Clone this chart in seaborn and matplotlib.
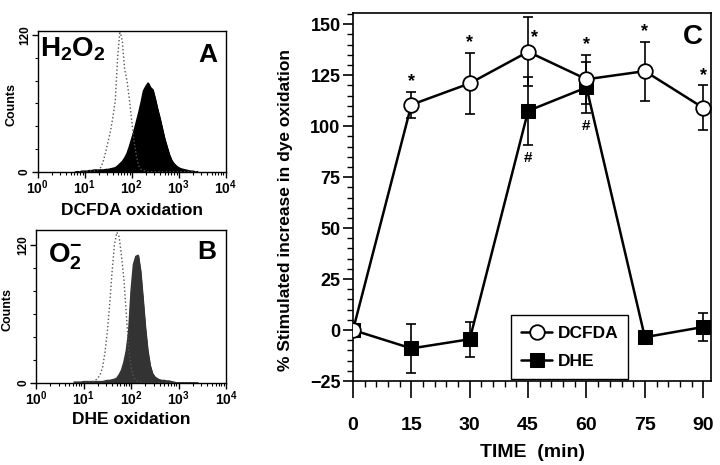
import numpy as np
import seaborn as sns
import matplotlib.pyplot as plt
from matplotlib.ticker import MultipleLocator, FixedLocator

sns.set_theme(style="ticks", rc={
    "axes.edgecolor": "black", "xtick.color": "black", "ytick.color": "black",
    "text.color": "black", "axes.labelcolor": "black",
})
plt.rcParams['font.family'] = ['Liberation Sans', 'DejaVu Sans']
plt.rcParams['font.weight'] = 'bold'
plt.rcParams['axes.labelweight'] = 'bold'
plt.rcParams['mathtext.fontset'] = 'custom'
plt.rcParams['mathtext.rm'] = 'Liberation Sans:bold'
plt.rcParams['mathtext.it'] = 'Liberation Sans:bold'
plt.rcParams['mathtext.bf'] = 'Liberation Sans:bold'
plt.rcParams['mathtext.default'] = 'rm'

# ---- flow cytometry histograms (panels A, B), channels in log10 units ----
log_channel = np.round(np.arange(0.80, 3.41, 0.05), 2)

dcfda_control = [0, 0, 0, 0, 0.5, 0.5, 0.5, 0.5, 0.5, 1,
                 2, 4, 10, 18, 27, 36, 48, 62, 100, 124,
                 115, 90, 80, 64, 45, 27, 14, 5, 2, 1,
                 0.5, 0, 0, 0, 0, 0, 0, 0, 0, 0,
                 0, 0, 0, 0, 0, 0, 0, 0, 0, 0,
                 0, 0, 0]
dcfda_h2o2 = [0, 0, 0, 0.5, 0.5, 0.5, 1, 1, 1.5, 1.5,
              1.5, 1.5, 1.5, 2, 2, 2.5, 3, 3.5, 5, 7,
              9, 12, 16, 22, 29, 36, 44, 52, 61, 71,
              75, 78, 74, 72, 64, 55, 47, 38, 29, 22,
              15, 10, 7, 5, 3.5, 2.5, 2, 1.5, 1, 0.5,
              0.5, 0, 0]
dhe_control = [0.5, 0.5, 0.5, 0.5, 0.5, 0.5, 0.5, 1, 1, 2,
               4, 7, 13, 26, 44, 68, 96, 120, 131, 127,
               110, 90, 60, 30, 14, 5, 2, 1, 0.5, 0,
               0, 0, 0, 0, 0, 0, 0, 0, 0, 0,
               0, 0, 0, 0, 0, 0, 0, 0, 0, 0,
               0, 0, 0]
dhe_superoxide = [0.5, 0.5, 0.5, 0.5, 1, 1, 1, 1, 1, 1,
                  1, 1, 1, 1.5, 2, 2, 2.5, 3, 4, 7,
                  11, 18, 28, 45, 80, 103, 110, 111, 97, 73,
                  48, 28, 15, 8, 5, 3.5, 2.5, 2, 2, 1.5,
                  1.5, 1, 0.5, 0, 0, 0, 0, 0, 0, 0,
                  0, 0, 0]
decade_labels = [r"10$^{0}$", r"10$^{1}$", r"10$^{2}$", r"10$^{3}$", r"10$^{4}$"]

# ---- time course (panel C) ----
time_min = [0, 15, 30, 45, 60, 75, 90]
dcfda_mean = [0, 110.5, 121, 136.5, 123, 127, 109]
dcfda_err = [0, 6.5, 15, 17, 12, 14.5, 11]
dhe_mean = [0, -9, -4.5, 107.5, 119, -3.5, 1.5]
dhe_err = [0, 12, 8.5, 16.5, 12.5, 0, 7]

fig = plt.figure(figsize=(7.2, 4.65), dpi=100)
axA = fig.add_axes([0.0524, 0.6308, 0.261, 0.3032])
axB = fig.add_axes([0.050, 0.177, 0.264, 0.3284])
axC = fig.add_axes([0.4903, 0.1806, 0.4972, 0.7914])


def draw_filled(ax, counts, color):
    sns.lineplot(x=log_channel, y=counts, ax=ax, color=color, linewidth=1.0)
    ax.fill_between(log_channel, counts, color=color, linewidth=0.8, edgecolor=color)


def draw_dotted(ax, counts):
    sns.lineplot(x=log_channel, y=counts, ax=ax, color="#555555", linewidth=1.0,
                 linestyle=":")


def style_hist_axis(ax, ytop, xlabel):
    ax.set_xlim(0, 4)
    ax.set_ylim(0, ytop)
    ax.set_xticks(range(5))
    ax.set_xticklabels(decade_labels)
    minor = [d + np.log10(m) for d in range(4) for m in range(2, 10)]
    ax.xaxis.set_minor_locator(FixedLocator(minor))
    ax.set_yticks([0, 120])
    ax.set_yticklabels(["0", "120"], rotation=90, va="center")
    ax.yaxis.set_minor_locator(FixedLocator([20, 40, 60, 80, 100]))
    ax.tick_params(axis="both", which="major", direction="out", length=4, width=1, pad=1, labelsize=10)
    ax.tick_params(axis="both", which="minor", direction="out", length=2.5, width=0.8)
    ax.tick_params(axis="y", labelsize=8.5, pad=1)
    ax.set_xlabel(xlabel, fontsize=12.5, fontweight="bold")
    ax.set_ylabel("Counts", fontsize=9, fontweight="bold")
    ax.yaxis.set_label_coords(-0.11, 0.48)
    for s in ax.spines.values():
        s.set_linewidth(1.0)


# panel A
draw_filled(axA, dcfda_h2o2, "black")
draw_dotted(axA, dcfda_control)
style_hist_axis(axA, 124, "DCFDA oxidation")
axA.xaxis.set_label_coords(0.5, -0.22)
axA.text(0.012, 0.82, r"H$_2$O$_2$", transform=axA.transAxes, fontsize=20,
         fontweight="bold", ha="left", va="baseline")
axA.text(0.905, 0.83, "A", transform=axA.transAxes, fontsize=19,
         fontweight="bold", ha="center", va="center")

# panel B
draw_filled(axB, dhe_superoxide, "#333333")
draw_dotted(axB, dhe_control)
style_hist_axis(axB, 133, "DHE oxidation")
axB.yaxis.set_label_coords(-0.12, 0.48)
axB.xaxis.set_label_coords(0.5, -0.19)
axB.text(0.065, 0.79, r"O$_2^{\mathbf{-}}$", transform=axB.transAxes, fontsize=20,
         fontweight="bold", ha="left", va="baseline")
axB.text(0.898, 0.858, "B", transform=axB.transAxes, fontsize=19,
         fontweight="bold", ha="center", va="center")

# panel C
axC.errorbar(time_min, dhe_mean, yerr=dhe_err, fmt="none", ecolor="black",
             elinewidth=1.2, capsize=3.5, capthick=1.2, zorder=2.5)
axC.errorbar(time_min, dcfda_mean, yerr=dcfda_err, fmt="none", ecolor="black",
             elinewidth=1.2, capsize=3.5, capthick=1.2, zorder=2.5)
sns.lineplot(x=time_min, y=dhe_mean, ax=axC, color="black", linewidth=1.8,
             marker="s", markersize=10, markerfacecolor="black",
             markeredgecolor="black", label="DHE", zorder=3)
sns.lineplot(x=time_min, y=dcfda_mean, ax=axC, color="black", linewidth=1.8,
             marker="o", markersize=10.5, markerfacecolor="white",
             markeredgecolor="black", markeredgewidth=1.3, label="DCFDA", zorder=4)

# significance marks
for t, m, e in zip(time_min[1:], dcfda_mean[1:], dcfda_err[1:]):
    if t == 45:
        axC.text(t + 1.7, m + 7, "*", ha="center", va="center", fontsize=13, fontweight="bold")
    else:
        axC.text(t, m + e + 5, "*", ha="center", va="center", fontsize=13, fontweight="bold")
for t, m, e in zip(time_min, dhe_mean, dhe_err):
    if t in (45, 60):
        axC.text(t, m - e - 6.5, "#", ha="center", va="center", fontsize=11, fontweight="bold")

axC.set_xlim(0, 92)
axC.set_ylim(-25, 155.5)
axC.xaxis.set_major_locator(MultipleLocator(15))
axC.xaxis.set_minor_locator(MultipleLocator(3))
axC.yaxis.set_major_locator(MultipleLocator(25))
axC.yaxis.set_minor_locator(MultipleLocator(5))
axC.tick_params(axis="x", which="major", direction="out", length=12, width=1.2, pad=14, labelsize=14)
axC.tick_params(axis="x", which="minor", direction="out", length=4, width=1.0)
axC.tick_params(axis="y", which="major", direction="out", length=7, width=1.2, pad=2, labelsize=13)
axC.tick_params(axis="y", which="minor", direction="out", length=4, width=1.0)
for s in axC.spines.values():
    s.set_linewidth(1.2)
axC.set_xlabel("TIME  (min)", fontsize=14, fontweight="bold")
axC.xaxis.set_label_coords(0.5, -0.172)
axC.set_ylabel("% Stimulated increase in dye oxidation", fontsize=12.5, fontweight="bold")
axC.yaxis.set_label_coords(-0.168, 0.465)
axC.text(0.95, 0.935, "C", transform=axC.transAxes, fontsize=20,
         fontweight="bold", ha="center", va="center")

handles, labels = axC.get_legend_handles_labels()
order = [labels.index("DCFDA"), labels.index("DHE")]
leg = axC.legend([handles[i] for i in order], [labels[i] for i in order],
                 loc="lower left", bbox_to_anchor=(0.44, 0.005), borderaxespad=0,
                 fancybox=False, framealpha=1, edgecolor="black",
                 prop={"size": 12.5, "weight": "bold"},
                 handlelength=1.8, handletextpad=0.3, labelspacing=0.75,
                 borderpad=0.6)
leg.get_frame().set_linewidth(1.0)

fig.savefig("out.png", dpi=100)
